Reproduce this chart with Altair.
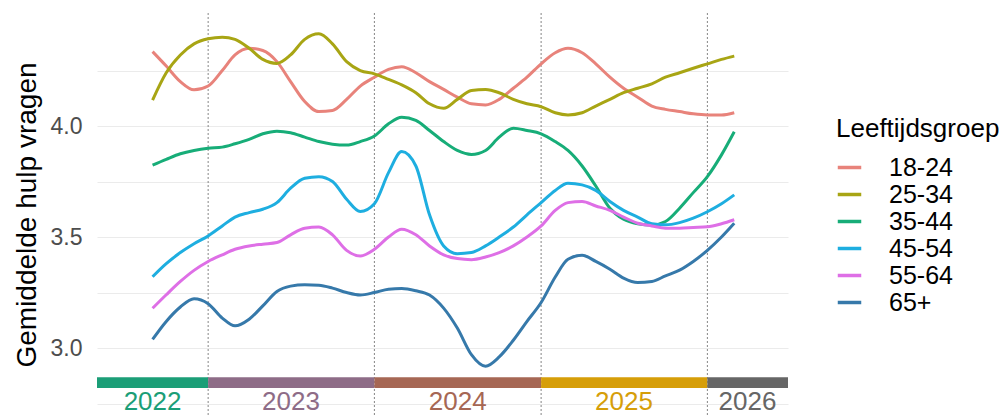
import altair as alt
import pandas as pd

groups = ["18-24", "25-34", "35-44", "45-54", "55-64", "65+"]
line_colors = ["#E8837B", "#A8A514", "#17AD78", "#1EAEE0", "#DE6FE6", "#3679AA"]

months = [d.strftime("%Y-%m-%d") for d in pd.date_range("2022-09-01", "2026-03-01", freq="MS")]

v_18_24 = [4.335, 4.27, 4.20, 4.163, 4.18, 4.25, 4.32, 4.35, 4.34, 4.29, 4.20, 4.11, 4.065, 4.07,
           4.12, 4.18, 4.22, 4.255, 4.267, 4.24, 4.20, 4.165, 4.13, 4.10, 4.095, 4.12, 4.17, 4.22,
           4.28, 4.33, 4.35, 4.33, 4.28, 4.22, 4.17, 4.13, 4.09, 4.075, 4.065, 4.055, 4.05, 4.05, 4.06]
v_25_34 = [4.117, 4.24, 4.32, 4.37, 4.393, 4.40, 4.39, 4.35, 4.30, 4.282, 4.32, 4.39, 4.415, 4.37,
           4.29, 4.25, 4.235, 4.21, 4.185, 4.15, 4.10, 4.08, 4.12, 4.16, 4.165, 4.15, 4.12, 4.10,
           4.087, 4.06, 4.05, 4.06, 4.09, 4.12, 4.15, 4.17, 4.19, 4.22, 4.24, 4.26, 4.28, 4.30, 4.315]
v_35_44 = [3.824, 3.85, 3.875, 3.89, 3.90, 3.905, 3.92, 3.94, 3.965, 3.977, 3.97, 3.95, 3.93, 3.918,
           3.914, 3.93, 3.955, 4.01, 4.04, 4.025, 3.98, 3.93, 3.89, 3.872, 3.89, 3.95, 3.99, 3.98,
           3.965, 3.93, 3.89, 3.82, 3.73, 3.63, 3.58, 3.56, 3.554, 3.57, 3.63, 3.70, 3.772, 3.87, 3.974]
v_45_54 = [3.321, 3.38, 3.43, 3.47, 3.505, 3.55, 3.59, 3.61, 3.625, 3.655, 3.72, 3.765, 3.772, 3.75,
           3.67, 3.615, 3.65, 3.79, 3.885, 3.82, 3.60, 3.46, 3.425, 3.43, 3.46, 3.50, 3.545, 3.60,
           3.655, 3.71, 3.742, 3.735, 3.71, 3.66, 3.62, 3.59, 3.56, 3.555, 3.565, 3.585, 3.614, 3.65, 3.69]
v_55_64 = [3.179, 3.24, 3.30, 3.35, 3.39, 3.42, 3.445, 3.46, 3.468, 3.475, 3.51, 3.54, 3.545, 3.51,
           3.44, 3.415, 3.445, 3.50, 3.535, 3.51, 3.46, 3.42, 3.403, 3.398, 3.41, 3.43, 3.46, 3.50,
           3.55, 3.62, 3.655, 3.66, 3.64, 3.62, 3.59, 3.562, 3.55, 3.54, 3.54, 3.543, 3.546, 3.56, 3.578]
v_65 = [3.039, 3.12, 3.185, 3.222, 3.20, 3.135, 3.10, 3.13, 3.19, 3.255, 3.279, 3.285, 3.283, 3.27,
        3.25, 3.239, 3.25, 3.265, 3.268, 3.258, 3.239, 3.18, 3.09, 2.97, 2.918, 2.96, 3.035, 3.12,
        3.205, 3.32, 3.40, 3.418, 3.39, 3.355, 3.315, 3.295, 3.30, 3.325, 3.351, 3.39, 3.44, 3.50, 3.562]

year_labels = ["2022", "2023", "2024", "2025", "2026"]
year_starts = ["2022-05-02", "2023-01-01", "2024-01-01", "2025-01-01", "2026-01-01"]
year_ends = ["2023-01-01", "2024-01-01", "2025-01-01", "2026-01-01", "2026-06-27"]
year_colors = ["#1B9E77", "#8E6C87", "#A66754", "#D69E09", "#666666"]
boundaries = ["2023-01-01", "2024-01-01", "2025-01-01", "2026-01-01"]

x_domain = ["2022-05-02", "2026-06-27"]
y_domain = [2.694, 4.509]

series = [v_18_24, v_25_34, v_35_44, v_45_54, v_55_64, v_65]
rows = []
for g, vals in zip(groups, series):
    for d, v in zip(months, vals):
        rows.append({"date": d, "group": g, "value": v})
df = pd.DataFrame(rows)

years = pd.DataFrame({"year": year_labels, "start": year_starts, "end": year_ends,
                      "ycol": year_colors})
years["mid"] = (pd.to_datetime(years["start"]) + (pd.to_datetime(years["end"]) - pd.to_datetime(years["start"])) / 2).dt.strftime("%Y-%m-%d")
bounds = pd.DataFrame({"date": boundaries})

FONT = "Liberation Sans"
xscale = alt.Scale(domain=x_domain)
yscale = alt.Scale(domain=y_domain, nice=False, zero=False)

lines = alt.Chart(df).mark_line(strokeWidth=3, interpolate="monotone").encode(
    x=alt.X("date:T", scale=xscale, axis=None),
    y=alt.Y("value:Q", scale=yscale,
            axis=alt.Axis(title="Gemiddelde hulp vragen",
                          values=[2.75, 3.0, 3.25, 3.5, 3.75, 4.0, 4.25],
                          labelExpr="datum.value % 0.5 == 0 ? format(datum.value, '.1f') : ''",
                          domain=False, ticks=False, labelPadding=15,
                          labelFontSize=23, labelColor="#4D4D4D", labelFont=FONT,
                          titleFontSize=28, titleFontWeight="normal", titleColor="black",
                          titleFont=FONT, titlePadding=9,
                          gridColor="#EBEBEB", gridWidth=1)),
    color=alt.Color("group:N", scale=alt.Scale(domain=groups, range=line_colors),
                    legend=alt.Legend(title="Leeftijdsgroep", orient="none",
                                      legendX=739, legendY=103,
                                      symbolType="stroke", symbolSize=552,
                                      symbolStrokeWidth=3.5,
                                      labelFontSize=25, labelFont=FONT, labelColor="black",
                                      titleFontSize=26, titleFont=FONT, titleColor="black",
                                      titleFontWeight="normal", labelOffset=26,
                                      rowPadding=0, titlePadding=12, padding=0)),
)

vlines = alt.Chart(bounds).mark_rule(color="#666666", strokeWidth=0.8, strokeDash=[2, 2]).encode(
    x=alt.X("date:T", scale=xscale, axis=None)
)

bars = alt.Chart(years).mark_rect().encode(
    x=alt.X("start:T", scale=xscale, axis=None),
    x2="end:T",
    y=alt.Y("lo:Q", scale=yscale),
    y2="hi:Q",
    fill=alt.Fill("ycol:N", scale=None),
).transform_calculate(lo="2.820", hi="2.869")

labels = alt.Chart(years).mark_text(fontSize=26, font=FONT, baseline="middle", align="center").encode(
    x=alt.X("mid:T", scale=xscale, axis=None),
    y=alt.Y("ly:Q", scale=yscale),
    text="year:N",
    fill=alt.Fill("ycol:N", scale=None),
).transform_calculate(ly="2.755")

chart = alt.layer(vlines, bars, labels, lines).properties(
    width=691, height=403,
    autosize=alt.AutoSizeParams(type="none"),
    padding={"left": 89, "top": 5, "right": 212, "bottom": 0},
).configure(font=FONT).configure_view(stroke=None)

chart.save("out.html", embed_options={"renderer": "svg", "actions": False})
